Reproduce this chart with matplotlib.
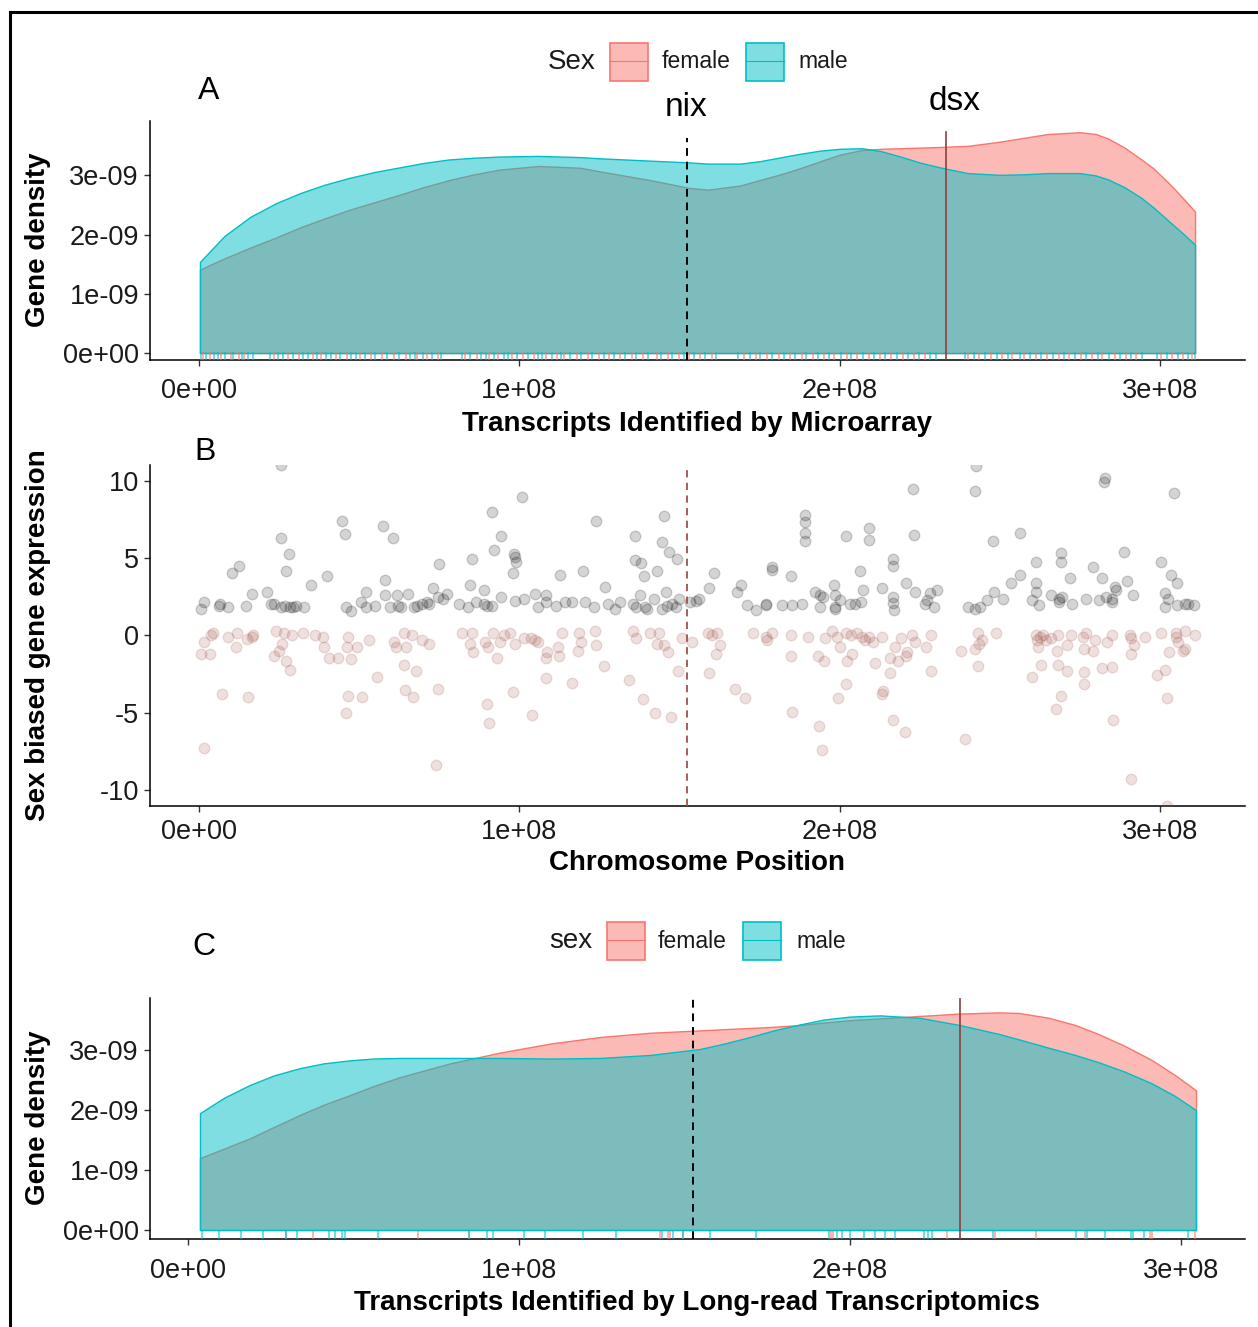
import matplotlib
matplotlib.use('Agg')
import matplotlib.pyplot as plt
from matplotlib import font_manager
from matplotlib.lines import Line2D
from matplotlib.patches import Rectangle
import numpy as np

# ---------------- data ----------------
MB = 1e6
DENS = 1e-9
NIX = 152.5   # Mb
DSX = 233.2   # Mb

# Panel A densities (Microarray)
a_pos = [0.3, 8, 16, 24, 31.5, 39, 47, 55, 63, 70, 78, 86, 94, 106, 119, 125, 141, 153, 159,
         169, 175, 181, 187, 194, 200, 207, 213, 219, 225, 231, 240, 250, 258, 265, 275, 280,
         284, 289, 294, 298, 303, 307, 311]
a_male = [1.54, 1.98, 2.30, 2.53, 2.70, 2.84, 2.96, 3.06, 3.14, 3.21, 3.27, 3.30, 3.32, 3.33,
          3.31, 3.29, 3.25, 3.22, 3.20, 3.20, 3.24, 3.30, 3.36, 3.42, 3.45, 3.46, 3.41, 3.32,
          3.22, 3.14, 3.04, 3.01, 3.02, 3.04, 3.04, 3.00, 2.93, 2.80, 2.63, 2.46, 2.22, 2.03, 1.83]
a_female = [1.41, 1.60, 1.78, 1.95, 2.12, 2.27, 2.42, 2.55, 2.68, 2.80, 2.92, 3.02, 3.10, 3.16,
            3.13, 3.07, 2.92, 2.79, 2.76, 2.83, 2.92, 3.01, 3.11, 3.24, 3.35, 3.43, 3.45, 3.46,
            3.47, 3.48, 3.50, 3.57, 3.64, 3.70, 3.73, 3.70, 3.62, 3.47, 3.28, 3.12, 2.86, 2.63, 2.39]

a_rug_female = [1.2, 3.5, 6.8, 9.9, 12.4, 14.1, 23.5, 27.9, 31.2, 35.6, 38.0, 42.7, 46.1, 50.3,
                53.8, 57.2, 60.9, 64.5, 68.1, 71.3, 74.6, 83.2, 86.9, 90.4, 93.5, 97.8, 101.2,
                104.6, 108.3, 111.7, 114.0, 117.9, 121.4, 124.8, 128.1, 131.5, 135.2, 138.6,
                142.9, 146.3, 149.8, 153.0, 156.4, 160.2, 170.3, 173.8, 177.5, 181.1, 184.6,
                188.2, 191.7, 195.0, 198.4, 202.2, 205.5, 209.1, 212.6, 216.0, 219.7, 223.2,
                226.8, 240.1, 243.6, 247.2, 250.8, 254.0, 257.7, 261.3, 264.9, 268.4, 271.6,
                275.3, 278.8, 282.1, 285.9, 289.4, 292.6, 300.4, 303.8, 307.2, 310.1]
a_rug_male = [0.5, 2.2, 4.6, 5.9, 8.1, 10.7, 13.3, 15.2, 17.0, 22.1, 24.8, 26.3, 29.4, 32.5,
              33.9, 36.8, 39.7, 41.2, 44.0, 47.5, 49.1, 51.9, 55.0, 58.6, 62.3, 65.8, 67.4,
              69.9, 72.8, 75.7, 82.0, 84.5, 88.1, 89.6, 92.2, 95.1, 96.4, 99.3, 102.8, 106.0,
              107.2, 110.1, 112.9, 115.8, 119.3, 122.6, 126.5, 129.7, 133.0, 136.4, 140.1,
              144.2, 147.6, 151.3, 154.7, 158.1, 161.5, 168.4, 171.9, 175.2, 179.0, 182.7,
              186.1, 189.5, 193.3, 196.8, 200.5, 203.6, 207.3, 210.8, 214.2, 217.8, 221.5,
              224.9, 228.3, 230.1, 239.2, 242.0, 245.5, 249.1, 252.6, 256.2, 259.5, 263.0,
              266.7, 270.2, 273.4, 277.0, 280.6, 284.0, 287.6, 291.0, 294.3, 299.0, 302.2,
              305.6, 308.8, 311.0]

# Panel B points (Mb, log fold change)
b_up_points = [
    (25.6, 11.0), (100.9, 8.97), (91.6, 8.0), (145.3, 7.74), (44.6, 7.41), (124.1, 7.41),
    (57.4, 7.09), (45.5, 6.53), (136.0, 6.40), (25.6, 6.27), (60.7, 6.27), (94.4, 6.40),
    (144.7, 6.06), (92.0, 5.50), (146.8, 5.39), (28.2, 5.26), (98.5, 5.26), (98.7, 5.04),
    (136.0, 4.87), (99.0, 4.74), (138.0, 4.70), (149.1, 4.96), (10.4, 4.05), (12.6, 4.48),
    (85.2, 4.96), (74.8, 4.59), (27.1, 4.16), (119.9, 4.16), (143.1, 4.16), (112.8, 3.92),
    (98.1, 4.05), (139.1, 3.81), (40.1, 3.81), (58.0, 3.60), (34.9, 3.25), (84.7, 3.25),
    (126.8, 3.15), (73.0, 3.08), (21.2, 2.82), (16.5, 2.69), (52.1, 2.82), (88.9, 2.93),
    (105.0, 2.69), (145.7, 2.82), (65.2, 2.69), (77.3, 2.69), (137.7, 2.59), (108.5, 2.59),
    (94.4, 2.48), (58.0, 2.59), (61.9, 2.59), (74.5, 2.48), (76.2, 2.37), (98.7, 2.24),
    (101.5, 2.37), (142.2, 2.37), (150.0, 2.37),
    (0.6, 1.70), (1.7, 2.13), (6.1, 1.92), (6.7, 2.03), (9.2, 1.81), (14.6, 1.92), (22.6, 2.03),
    (23.4, 2.03), (25.6, 1.81), (26.7, 1.92), (28.4, 1.81), (29.5, 1.81), (30.4, 1.92),
    (32.9, 1.81), (46.0, 1.81), (47.4, 1.59), (50.7, 2.13), (52.1, 1.81), (55.0, 1.92),
    (59.7, 1.81), (62.1, 1.92), (63.0, 1.81), (67.2, 1.81), (68.0, 1.92), (69.7, 2.03),
    (71.1, 2.13), (71.9, 2.03), (81.1, 2.03), (84.0, 1.81), (86.4, 2.13), (88.9, 2.03),
    (89.8, 1.92), (91.4, 1.92), (105.7, 1.81), (108.2, 2.13), (111.5, 1.92), (114.3, 2.13),
    (116.5, 2.13), (120.4, 2.13), (123.2, 1.81), (127.7, 2.03), (129.9, 1.70), (131.6, 2.13),
    (135.5, 2.03), (136.6, 1.81), (139.4, 1.81), (139.9, 1.70), (144.6, 1.70), (146.1, 1.92),
    (147.7, 2.03), (148.8, 1.81),
    (242.6, 10.95), (283.0, 10.15), (282.6, 9.94), (304.5, 9.22), (242.2, 9.33), (222.8, 9.44),
    (189.1, 7.78), (189.3, 7.31), (189.1, 6.64), (189.1, 6.08), (202.1, 6.40), (209.2, 6.96),
    (209.2, 6.19), (223.2, 6.51), (247.8, 6.08), (256.4, 6.64), (288.8, 5.39), (269.0, 5.30),
    (269.0, 4.74), (261.2, 4.74), (300.3, 4.74), (178.9, 4.40), (178.9, 4.22), (216.8, 4.96),
    (216.8, 4.48), (206.5, 4.16), (279.1, 4.40), (160.9, 4.05), (184.9, 3.84), (272.1, 3.71),
    (281.9, 3.71), (303.6, 3.92), (305.5, 3.36), (289.9, 3.49), (256.4, 3.92), (253.6, 3.38),
    (261.2, 3.38), (220.6, 3.38), (169.1, 3.28), (159.2, 3.06), (213.4, 3.06), (198.3, 3.28),
    (167.9, 2.80), (192.2, 2.80), (207.4, 2.93), (248.2, 2.80), (286.1, 3.15), (286.4, 2.93),
    (230.4, 2.93), (228.2, 2.72), (223.7, 2.80), (261.2, 2.80), (301.5, 2.72),
    (153.4, 2.16), (155.1, 2.24), (156.2, 2.37), (171.1, 1.94), (174.0, 1.66), (176.9, 2.05),
    (176.9, 1.94), (182.0, 1.94), (185.3, 1.94), (188.2, 2.05), (193.8, 2.59), (194.9, 2.50),
    (193.8, 1.83), (198.5, 2.59), (198.7, 1.83), (200.1, 2.28), (198.7, 1.72), (203.4, 2.05),
    (204.7, 2.05), (206.7, 2.16), (216.8, 2.50), (216.8, 2.07), (217.0, 1.66), (226.8, 2.05),
    (227.3, 2.26), (229.5, 1.83), (240.0, 1.83), (242.4, 1.72), (243.8, 1.83), (246.0, 2.28),
    (250.9, 2.37), (260.0, 2.26), (262.3, 1.94), (266.1, 2.59), (268.5, 2.37), (268.5, 2.16),
    (269.6, 2.50), (272.7, 2.05), (277.0, 2.37), (281.0, 2.26), (283.3, 2.50), (285.2, 2.37),
    (285.0, 2.16), (291.5, 2.59), (301.7, 1.83), (302.6, 2.37), (305.3, 1.94), (307.8, 2.05),
    (308.7, 2.05), (310.7, 1.94),
]
b_down_points = [
    (0.6, -1.21), (1.7, -0.41), (3.3, -1.23), (3.9, 0.02), (4.5, 0.13), (7.2, -3.79),
    (9.2, -0.09), (11.5, -0.78), (12.0, 0.13), (15.0, -0.24), (15.4, -4.01), (17.0, 0.02),
    (16.5, -0.09), (23.4, -1.34), (24.0, 0.26), (25.1, -0.99), (26.0, -0.54), (26.4, 0.13),
    (27.1, -1.66), (28.4, -2.24), (29.0, 0.02), (32.6, 0.13), (36.2, 0.02), (38.7, -0.09),
    (39.1, -0.78), (40.5, -1.44), (43.5, -1.44), (46.0, -5.04), (46.6, -0.09), (46.3, -0.78),
    (47.4, -1.55), (46.6, -3.90), (49.3, -0.78), (51.0, -4.01), (53.2, -0.30), (55.7, -2.67),
    (60.8, -0.41), (61.6, -0.78), (63.9, 0.13), (64.1, -1.90), (64.7, -0.78), (64.3, -3.53),
    (66.6, 0.02), (66.7, -4.01), (67.7, -2.33), (69.5, -0.30), (71.9, -0.54), (74.7, -3.45),
    (74.1, -8.38), (82.2, 0.13), (84.7, -0.54), (85.3, 0.13), (85.5, -1.10), (89.2, -0.41),
    (89.8, -4.46), (90.3, -0.78), (90.6, -5.69), (91.8, 0.13), (93.1, -1.44), (94.0, -0.41),
    (95.3, 0.02), (97.0, 0.13), (98.1, -3.69), (98.7, -0.54), (101.5, -0.19), (103.7, -0.19),
    (104.8, -0.30), (104.0, -5.15), (105.9, -0.41), (108.2, -1.44), (108.5, -2.78),
    (108.7, -1.10), (112.3, -1.34), (112.1, -0.78), (113.4, 0.13), (116.5, -3.10),
    (118.2, -0.99), (118.7, 0.13), (119.3, -0.41), (123.5, 0.26), (124.1, -0.65),
    (126.3, -2.00), (134.3, -2.89), (135.5, 0.26), (136.6, -0.19), (138.6, -4.12),
    (140.7, 0.13), (142.4, -5.04), (143.1, -0.54), (143.5, 0.13), (145.3, -0.65),
    (146.4, -1.10), (147.4, -5.26), (149.5, -2.33), (150.9, -0.19), (1.7, -7.31),
    (154.0, -0.41), (159.0, 0.13), (160.1, 0.02), (161.7, 0.13), (162.6, -0.65), (161.5, -1.21),
    (159.2, -2.46), (167.4, -3.45), (170.6, -4.03), (173.0, 0.13), (176.9, -0.09),
    (177.5, -0.30), (178.9, 0.13), (184.9, 0.02), (184.9, -1.34), (185.3, -4.94),
    (190.0, -0.09), (193.4, -1.34), (193.6, -5.84), (194.5, -7.41), (195.1, -1.68),
    (195.6, -0.19), (197.8, 0.26), (199.2, -0.09), (200.1, -0.78), (199.4, -4.03),
    (202.1, 0.13), (202.2, -1.66), (202.1, -3.13), (203.8, -1.21), (203.6, 0.02),
    (205.6, 0.13), (207.0, -0.09), (208.1, -0.30), (209.2, -0.09), (210.3, -0.41),
    (211.2, -1.77), (213.2, -0.09), (213.7, -3.58), (213.4, -3.79), (215.7, -1.44),
    (215.9, -2.46), (216.8, -5.47), (217.2, -0.78), (218.3, -1.66), (219.2, -0.19),
    (220.8, -1.34), (221.0, -1.10), (220.5, -6.27), (222.6, 0.02), (223.7, -0.41),
    (227.0, -0.78), (228.7, 0.02), (228.7, -2.33), (238.0, -0.99), (239.3, -6.70),
    (242.2, -0.88), (243.3, 0.13), (243.5, -0.54), (244.4, -0.30), (243.3, -2.00),
    (248.7, 0.13), (260.0, -2.67), (261.2, 0.02), (261.8, -0.30), (262.0, -0.75),
    (262.7, -0.09), (262.9, -1.90), (263.6, 0.02), (264.5, -0.30), (266.1, -0.19),
    (268.1, 0.02), (267.8, -0.99), (268.3, -1.90), (269.0, -3.92), (267.6, -4.78),
    (271.0, -2.33), (271.0, -0.65), (272.3, 0.02), (276.1, -0.09), (276.3, -0.88),
    (276.4, -2.35), (276.3, -3.13), (276.8, 0.13), (279.2, -0.99), (279.7, -0.30),
    (281.9, -2.11), (283.5, -0.43), (285.0, 0.02), (285.0, -2.03), (285.5, -5.47),
    (290.8, 0.02), (291.1, -0.19), (291.0, -1.21), (291.0, -9.31), (291.9, -0.65),
    (295.3, -0.09), (299.1, -2.56), (300.4, 0.13), (301.7, -2.24), (302.9, -1.10),
    (302.3, -4.03), (304.9, 0.13), (305.1, -0.09), (305.8, -0.41), (307.3, -0.99),
    (307.8, -0.88), (307.8, 0.26), (311.0, 0.02), (302.3, -11.08),
]

# Panel C densities (Long-read)
c_pos = [3.6, 11, 18.7, 26, 33.8, 41, 48.9, 56, 64, 79.2, 94.3, 109.4, 124.5, 139.6, 154.7,
         162, 169.8, 177, 184.9, 192, 200, 209, 221, 233, 245, 251, 260, 268, 275, 283, 291,
         298, 304.5]
c_male = [1.95, 2.21, 2.42, 2.58, 2.70, 2.78, 2.83, 2.86, 2.87, 2.87, 2.87, 2.86, 2.87, 2.92,
          3.02, 3.11, 3.22, 3.33, 3.43, 3.51, 3.56, 3.58, 3.54, 3.42, 3.27, 3.18, 3.04, 2.92,
          2.80, 2.64, 2.45, 2.24, 2.00]
c_female = [1.20, 1.36, 1.53, 1.72, 1.92, 2.09, 2.25, 2.40, 2.55, 2.78, 2.96, 3.11, 3.22,
            3.29, 3.33, 3.35, 3.37, 3.39, 3.42, 3.46, 3.50, 3.53, 3.57, 3.61, 3.63, 3.62,
            3.54, 3.42, 3.27, 3.07, 2.84, 2.59, 2.33]
c_rug_female = [29.7, 37.8, 69.5, 84.8, 142.5, 145.0, 145.5, 149.5, 194.1, 194.8, 229.3,
                243.9, 256.1, 270.9, 290.6, 291.2, 304.1]
c_rug_male = [4.1, 9.2, 16.0, 22.7, 29.7, 32.8, 42.7, 44.3, 46.5, 47.5, 57.5, 84.8, 90.4,
              92.0, 101.5, 107.7, 119.3, 129.2, 143.2, 146.6, 149.5, 157.6, 171.6, 193.5,
              195.9, 197.5, 199.9, 204.2, 207.4, 210.4, 213.7, 222.3, 223.6, 224.8, 243.2,
              268.2, 271.7, 277.1, 284.9, 285.6, 288.7, 302.0]

x_ticks = [0, 1e8, 2e8, 3e8]
x_ticklabels = ['0e+00', '1e+08', '2e+08', '3e+08']
dens_ticks = [0, 1e-9, 2e-9, 3e-9]
dens_ticklabels = ['0e+00', '1e-09', '2e-09', '3e-09']
b_ticks = [-10, -5, 0, 5, 10]
b_ticklabels = ['-10', '-5', '0', '5', '10']

# ---------------- style ----------------
FEMALE = '#F8766D'
MALE = '#00BFC4'
DOWN_COL = '#9C4A3E'
DSX_COL = '#8B4040'
BLINE_COL = '#A0524A'

W, H = 1258, 1327
fig = plt.figure(figsize=(W / 100, H / 100), dpi=100)

names = {f.name for f in font_manager.fontManager.ttflist}
BASE = 'Liberation Sans' if 'Liberation Sans' in names else 'DejaVu Sans'
NARROW = 'Liberation Sans Narrow' if 'Liberation Sans Narrow' in names else BASE
plt.rcParams['font.family'] = [BASE, 'DejaVu Sans']


def fx(px):
    return px / W


def fy(py):
    return 1 - py / H


def axrect(l, t, r, b):
    return [fx(l), fy(b), (r - l) / W, (b - t) / H]


def style(ax, yticks, ylabels, xpad):
    for s in ['top', 'right']:
        ax.spines[s].set_visible(False)
    for s in ['left', 'bottom']:
        ax.spines[s].set_linewidth(1.1)
        ax.spines[s].set_color('black')
    ax.set_xticks(x_ticks)
    ax.set_xticklabels(x_ticklabels)
    ax.set_yticks(yticks)
    ax.set_yticklabels(ylabels)
    ax.tick_params(axis='both', length=4, width=1.0, color='#333333',
                   labelsize=19.5, labelcolor='#1a1a1a')
    ax.tick_params(axis='x', pad=xpad)
    ax.tick_params(axis='y', pad=4)
    ax.set_facecolor('none')


def rug(ax, pos, color, alpha):
    ax.vlines(np.array(pos) * MB, 0, 0.032, color=color, alpha=alpha, lw=1.3,
              transform=ax.get_xaxis_transform(), zorder=3)


def density(ax, pos, vals, color):
    r, g, b = matplotlib.colors.to_rgb(color)
    ax.fill_between(np.array(pos) * MB, np.array(vals) * DENS, 0,
                    facecolor=(r, g, b, 0.5), edgecolor=(r, g, b, 1.0), lw=1.0, zorder=2)


def legend(title, ypx, title_x, fbox_x, ftext_x, mbox_x, mtext_x):
    fig.text(fx(title_x), fy(ypx), title, fontsize=20, ha='left', va='center', color='#1a1a1a')
    for bx, col, lab, tx in [(fbox_x, FEMALE, 'female', ftext_x), (mbox_x, MALE, 'male', mtext_x)]:
        r, g, b = matplotlib.colors.to_rgb(col)
        rect = Rectangle((fx(bx), fy(ypx + 19)), 38 / W, 38 / H, transform=fig.transFigure,
                         facecolor=(r, g, b, 0.5), edgecolor=(r, g, b, 1.0), lw=1.2)
        fig.add_artist(rect)
        fig.add_artist(Line2D([fx(bx), fx(bx + 38)], [fy(ypx - 1), fy(ypx - 1)],
                              transform=fig.transFigure, color=col, lw=0.8))
        fig.text(fx(tx), fy(ypx), lab, fontsize=16.5, ha='left', va='center', color='#1a1a1a')


# ---------------- Panel A ----------------
axA = fig.add_axes(axrect(150, 121, 1245, 360))
density(axA, a_pos, a_female, FEMALE)
density(axA, a_pos, a_male, MALE)
rug(axA, a_rug_female, FEMALE, 0.6)
rug(axA, a_rug_male, MALE, 0.6)
axA.axvline(NIX * MB, ymax=0.93, color='black', lw=1.4, ls=(0, (4, 3)), zorder=4)
axA.axvline(DSX * MB, ymax=0.955, color=DSX_COL, lw=1.2, zorder=4)
axA.set_xlim(-15.3e6, 326.6e6)
axA.set_ylim(-0.118e-9, 3.92e-9)
style(axA, dens_ticks, dens_ticklabels, 9)

# ---------------- Panel B ----------------
axB = fig.add_axes(axrect(150, 465, 1245, 806))
up = np.array(b_up_points)
down = np.array(b_down_points)
axB.scatter(up[:, 0] * MB, up[:, 1], s=58, facecolor=(0, 0, 0, 0.17),
            edgecolor=(0, 0, 0, 0.17), lw=1.0, zorder=3)
r, g, b = matplotlib.colors.to_rgb(DOWN_COL)
axB.scatter(down[:, 0] * MB, down[:, 1], s=58, facecolor=(r, g, b, 0.17),
            edgecolor=(r, g, b, 0.17), lw=1.0, zorder=3)
axB.axvline(NIX * MB, color=BLINE_COL, lw=1.3, ls=(0, (4, 3)), zorder=4)
axB.set_xlim(-15.3e6, 326.6e6)
axB.set_ylim(-11.05, 11.02)
style(axB, b_ticks, b_ticklabels, 5)

# ---------------- Panel C ----------------
axC = fig.add_axes(axrect(150, 998, 1245, 1239))
density(axC, c_pos, c_female, FEMALE)
density(axC, c_pos, c_male, MALE)
rug(axC, c_rug_female, FEMALE, 0.6)
rug(axC, c_rug_male, MALE, 0.6)
axC.axvline(NIX * MB, color='black', lw=1.4, ls=(0, (4, 3)), zorder=4)
axC.axvline(DSX * MB, color=DSX_COL, lw=1.2, zorder=4)
axC.set_xlim(-11.5e6, 319.3e6)
axC.set_ylim(-0.15e-9, 3.87e-9)
style(axC, dens_ticks, dens_ticklabels, 10)

# ---------------- Texts ----------------
bold = dict(fontsize=20, fontweight='bold', color='black')
fig.text(fx(697), fy(424), 'Transcripts Identified by Microarray', ha='center', va='center', **bold)
fig.text(fx(697), fy(863), 'Chromosome Position', ha='center', va='center', **bold)
fig.text(fx(697), fy(1303), 'Transcripts Identified by Long-read Transcriptomics',
         ha='center', va='center', **bold)
fig.text(fx(38), fy(240), 'Gene density', rotation=90, ha='center', va='center', **bold)
fig.text(fx(38), fy(635), 'Sex biased gene expression', rotation=90, ha='center', va='center', **bold)
fig.text(fx(38), fy(1118), 'Gene density', rotation=90, ha='center', va='center', **bold)

lab = dict(family=[NARROW, 'DejaVu Sans'], color='black', ha='center', va='center')
fig.text(fx(209), fy(91), 'A', fontsize=23, **lab)
fig.text(fx(205), fy(452), 'B', fontsize=23, **lab)
fig.text(fx(204), fy(947), 'C', fontsize=23, **lab)
fig.text(fx(686), fy(108), 'nix', fontsize=24, **lab)
fig.text(fx(955), fy(102), 'dsx', fontsize=24, **lab)

legend('Sex', 62, 548, 610, 662, 746, 798)
legend('sex', 941, 549, 607, 658, 743, 796)

# outer frame
fig.add_artist(Line2D([fx(10), 1.01], [fy(12), fy(12)], transform=fig.transFigure, color='black', lw=2.2))
fig.add_artist(Line2D([fx(10), fx(10)], [fy(12), -0.01], transform=fig.transFigure, color='black', lw=2.2))

fig.savefig('out.png', dpi=100)
